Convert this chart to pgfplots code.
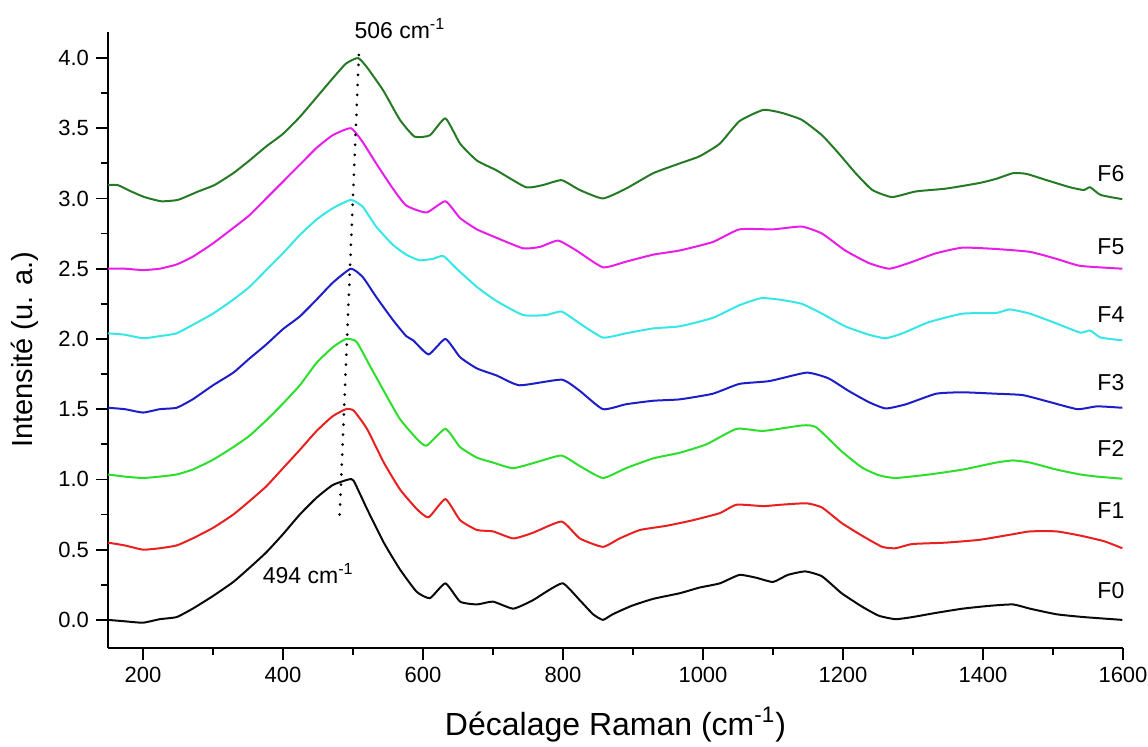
\documentclass[border=0pt]{standalone}
\usepackage{pgfplots}
\pgfplotsset{compat=1.18}
\usepackage{fontspec}
\setmainfont{Liberation Sans}
\definecolor{cF0}{RGB}{10,10,10}
\definecolor{cF1}{RGB}{232,32,32}
\definecolor{cF2}{RGB}{45,222,45}
\definecolor{cF3}{RGB}{30,30,200}
\definecolor{cF4}{RGB}{55,230,230}
\definecolor{cF5}{RGB}{232,30,232}
\definecolor{cF6}{RGB}{38,122,38}
\begin{document}
\begin{tikzpicture}
\begin{axis}[
  scale only axis, width=507.5pt, height=308pt,
  xmin=150, xmax=1600, ymin=-0.2, ymax=4.185,
  axis lines=left, axis line style={-, line width=0.9pt},
  xtick={200,400,600,800,1000,1200,1400,1600},
  minor xtick={300,500,700,900,1100,1300,1500},
  ytick={0,0.5,1,1.5,2,2.5,3,3.5,4},
  minor ytick={0.25,0.75,1.25,1.75,2.25,2.75,3.25,3.75},
  tick align=outside, major tick length=6pt, minor tick length=3.5pt,
  tick style={line width=0.9pt, black},
  /pgf/number format/assume math mode=true,
  x tick label style={/pgf/number format/1000 sep={}},
  y tick label style={/pgf/number format/.cd, fixed, fixed zerofill, precision=1, /tikz/.cd},
  tick label style={font=\fontsize{11}{13}\selectfont},
  xlabel={Décalage Raman (cm\textsuperscript{-1})},
  ylabel={Intensité (u. a.)},
  xlabel style={font=\fontsize{16}{18}\selectfont, at={(axis description cs:0.5,-0.124)}, anchor=center},
  ylabel style={font=\fontsize{14.5}{17}\selectfont, at={(axis description cs:-0.082,0.484)}, anchor=center},
  clip=false,
  every axis plot/.append style={line width=1pt, line join=round, smooth, tension=0.3},
]
% F0
\addplot[cF0] coordinates {
(150,0.00) (174,-0.01) (200,-0.02) (224,0.005) (248,0.02) (271,0.08) (300,0.17)
(329,0.27) (352,0.37) (376,0.48) (400,0.61) (424,0.75) (448,0.87) (471,0.96)
(494,1.00) (501,0.99) (520,0.79) (544,0.55) (567,0.36) (591,0.20) (610,0.155)
(632,0.26) (653,0.13) (677,0.11) (700,0.13) (729,0.08) (757,0.14) (776,0.20)
(800,0.26) (824,0.14) (843,0.04) (857,0.00) (871,0.04) (898,0.10) (929,0.15)
(967,0.19) (995,0.23) (1024,0.26) (1052,0.32) (1076,0.30) (1100,0.27) (1121,0.32)
(1146,0.345) (1170,0.31) (1198,0.19) (1227,0.095) (1251,0.03) (1275,0.005) (1299,0.02)
(1333,0.05) (1371,0.08) (1409,0.10) (1443,0.11) (1467,0.08) (1505,0.04) (1544,0.02) (1599,0.00)
};
% F1
\addplot[cF1] coordinates {
(150,0.55) (174,0.53) (200,0.50) (224,0.51) (248,0.53) (271,0.58) (300,0.655)
(329,0.75) (352,0.845) (376,0.95) (400,1.08) (424,1.21) (448,1.345) (471,1.45)
(490,1.50) (501,1.49) (520,1.36) (544,1.12) (567,0.93) (591,0.79) (608,0.73)
(632,0.86) (653,0.71) (677,0.64) (700,0.63) (729,0.58) (757,0.62) (798,0.70)
(824,0.58) (857,0.52) (881,0.58) (910,0.64) (948,0.67) (986,0.71) (1024,0.76)
(1048,0.82) (1086,0.81) (1112,0.82) (1148,0.83) (1170,0.80) (1198,0.69) (1227,0.60)
(1256,0.52) (1275,0.51) (1299,0.54) (1347,0.55) (1395,0.57) (1443,0.61) (1467,0.63)
(1505,0.63) (1539,0.60) (1573,0.56) (1599,0.51)
};
% F2
\addplot[cF2] coordinates {
(150,1.035) (174,1.02) (200,1.01) (224,1.02) (248,1.035) (271,1.07) (300,1.14)
(329,1.23) (352,1.31) (376,1.42) (400,1.54) (424,1.67) (448,1.83) (471,1.94)
(490,2.00) (505,1.98) (524,1.81) (544,1.63) (567,1.43) (591,1.29) (605,1.24)
(632,1.36) (653,1.23) (677,1.155) (700,1.12) (729,1.08) (767,1.13) (798,1.17)
(824,1.095) (857,1.01) (890,1.08) (929,1.15) (967,1.19) (1005,1.25) (1048,1.36)
(1086,1.345) (1143,1.385) (1162,1.37) (1198,1.20) (1227,1.085) (1251,1.03) (1275,1.01)
(1323,1.035) (1371,1.07) (1419,1.12) (1443,1.135) (1467,1.12) (1505,1.07) (1539,1.035)
(1563,1.02) (1599,1.005)
};
% F3
\addplot[cF3] coordinates {
(150,1.51) (174,1.50) (200,1.476) (224,1.50) (248,1.51) (271,1.57) (300,1.67)
(329,1.76) (352,1.86) (376,1.96) (400,2.07) (424,2.16) (448,2.28) (471,2.40)
(497,2.50) (514,2.44) (533,2.30) (557,2.135) (576,2.02) (586,1.99) (608,1.89)
(632,2.00) (653,1.87) (677,1.79) (705,1.74) (738,1.67) (798,1.71) (824,1.63)
(857,1.50) (890,1.535) (929,1.56) (967,1.57) (1014,1.61) (1052,1.68) (1095,1.70)
(1148,1.76) (1179,1.72) (1208,1.63) (1237,1.55) (1261,1.505) (1290,1.535) (1333,1.61)
(1371,1.62) (1419,1.61) (1457,1.60) (1496,1.55) (1535,1.50) (1563,1.52) (1599,1.51)
};
% F4
\addplot[cF4] coordinates {
(150,2.04) (174,2.03) (200,2.005) (224,2.02) (248,2.04) (271,2.10) (300,2.18)
(329,2.28) (352,2.37) (376,2.49) (400,2.61) (424,2.74) (448,2.85) (471,2.93)
(497,2.99) (514,2.94) (533,2.80) (557,2.67) (576,2.60) (595,2.56) (614,2.57)
(629,2.59) (648,2.50) (677,2.37) (705,2.27) (743,2.17) (776,2.17) (798,2.195)
(824,2.11) (857,2.01) (890,2.04) (929,2.075) (967,2.09) (1014,2.15) (1052,2.24)
(1083,2.29) (1109,2.28) (1141,2.25) (1170,2.18) (1203,2.09) (1237,2.03) (1261,2.005)
(1285,2.04) (1323,2.12) (1371,2.18) (1419,2.185) (1438,2.21) (1467,2.18) (1505,2.11)
(1539,2.045) (1553,2.06) (1568,2.01) (1599,1.99)
};
% F5
\addplot[cF5] coordinates {
(150,2.50) (174,2.50) (200,2.49) (224,2.50) (248,2.53) (271,2.585) (300,2.68)
(329,2.79) (352,2.88) (376,3.00) (400,3.12) (424,3.24) (448,3.36) (471,3.45)
(497,3.50) (514,3.40) (533,3.25) (557,3.07) (576,2.95) (605,2.90) (632,2.98)
(653,2.86) (677,2.78) (705,2.72) (743,2.645) (767,2.655) (793,2.70) (819,2.63)
(857,2.51) (890,2.55) (929,2.60) (967,2.63) (1014,2.69) (1052,2.78) (1100,2.78)
(1141,2.80) (1170,2.75) (1203,2.63) (1237,2.54) (1266,2.50) (1294,2.54) (1333,2.61)
(1371,2.65) (1419,2.64) (1467,2.62) (1505,2.57) (1539,2.52) (1599,2.50)
};
% F6
\addplot[cF6] coordinates {
(150,3.095) (164,3.095) (183,3.05) (202,3.01) (226,2.98) (250,2.99) (279,3.05)
(302,3.095) (329,3.18) (352,3.27) (376,3.37) (400,3.46) (424,3.58) (448,3.72)
(471,3.855) (490,3.96) (507,4.00) (519,3.94) (543,3.77) (567,3.56) (588,3.44)
(610,3.45) (632,3.57) (653,3.39) (677,3.27) (705,3.20) (747,3.08) (771,3.095)
(798,3.13) (824,3.06) (857,3.00) (890,3.07) (929,3.18) (967,3.25) (995,3.30)
(1024,3.39) (1052,3.55) (1086,3.63) (1112,3.61) (1141,3.56) (1170,3.45) (1194,3.32)
(1218,3.18) (1242,3.06) (1270,3.01) (1304,3.05) (1347,3.07) (1395,3.11) (1419,3.14)
(1443,3.18) (1462,3.175) (1491,3.13) (1524,3.08) (1544,3.06) (1553,3.08) (1568,3.025) (1599,2.995)
};
% dotted guide
\addplot[black, line width=1.5pt, line cap=round, dash pattern=on 0pt off 5pt, sharp plot] coordinates {(481,0.75) (509,4.09)};
\node[font=\fontsize{11.5}{13}\selectfont] at (axis cs:567,4.21) {506 cm\textsuperscript{-1}};
\node[font=\fontsize{11.5}{13}\selectfont] at (axis cs:436,0.33) {494 cm\textsuperscript{-1}};
\node[font=\fontsize{11.5}{13}\selectfont, anchor=east] at (axis cs:1612,3.18) {F6};
\node[font=\fontsize{11.5}{13}\selectfont, anchor=east] at (axis cs:1612,2.66) {F5};
\node[font=\fontsize{11.5}{13}\selectfont, anchor=east] at (axis cs:1612,2.17) {F4};
\node[font=\fontsize{11.5}{13}\selectfont, anchor=east] at (axis cs:1612,1.69) {F3};
\node[font=\fontsize{11.5}{13}\selectfont, anchor=east] at (axis cs:1612,1.22) {F2};
\node[font=\fontsize{11.5}{13}\selectfont, anchor=east] at (axis cs:1612,0.78) {F1};
\node[font=\fontsize{11.5}{13}\selectfont, anchor=east] at (axis cs:1612,0.21) {F0};
\end{axis}
\pgfresetboundingbox
\path[use as bounding box] (current axis.south west) ++(-54pt,-49.5pt) rectangle ++(574pt,373.5pt);
\end{tikzpicture}
\end{document}
